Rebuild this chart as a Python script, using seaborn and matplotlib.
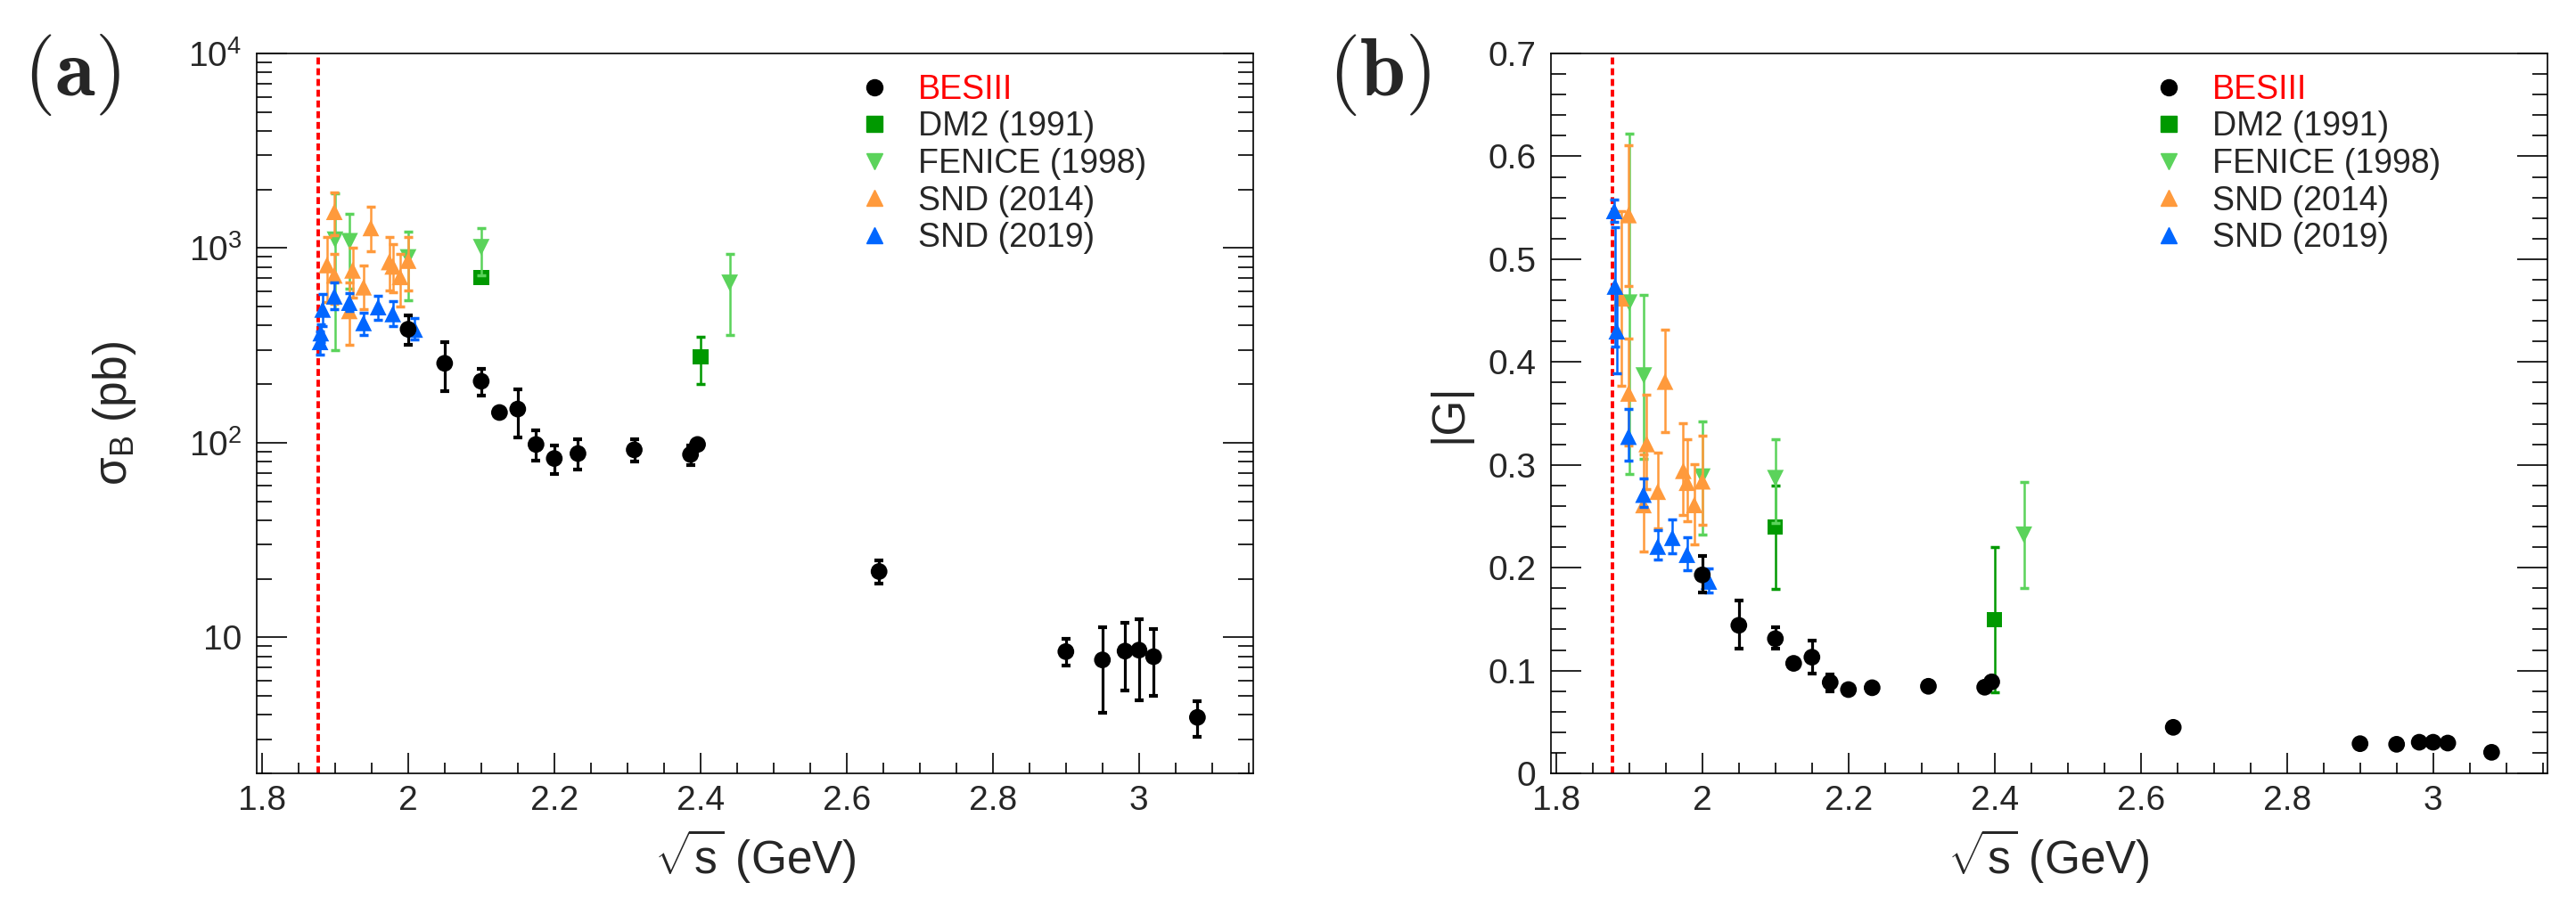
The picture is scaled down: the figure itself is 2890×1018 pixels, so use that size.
import matplotlib
matplotlib.use("Agg")
import matplotlib.pyplot as plt
from matplotlib.lines import Line2D
from matplotlib.ticker import FixedLocator, FixedFormatter, MultipleLocator, LogLocator, NullFormatter
import numpy as np
import seaborn as sns

sns.set_theme(style="white")
plt.rcParams["font.family"] = ["Liberation Sans", "DejaVu Sans"]
plt.rcParams["mathtext.fontset"] = "custom"
plt.rcParams["mathtext.rm"] = "Liberation Sans"
plt.rcParams["mathtext.it"] = "Liberation Sans:italic"
plt.rcParams["mathtext.bf"] = "Liberation Sans:bold"

# ---- data ----
threshold = 1.8765  # 2 m_p

# BESIII
bes_x = [2.0, 2.05, 2.1, 2.125, 2.15, 2.175, 2.2, 2.2324, 2.3094, 2.3864, 2.396,
         2.6444, 2.9, 2.95, 2.981, 3.0, 3.02, 3.08]
bes_sig = [383, 256, 207, 143, 149, 98, 83, 88, 92, 87, 98, 21.8, 8.45, 7.66, 8.5, 8.6, 7.96, 3.88]
bes_sig_lo = [318, 185, 175, 135, 107, 81, 69, 73, 80, 77, 95, 18.9, 7.2, 4.09, 5.36, 4.77, 5.0, 3.08]
bes_sig_hi = [452, 330, 239, 151, 189, 116, 97, 104, 104, 97, 101, 24.8, 9.85, 11.3, 11.9, 12.4, 11.0, 4.71]
bes_g = [0.193, 0.144, 0.131, 0.107, 0.113, 0.0885, 0.0815, 0.0833, 0.0847, 0.0838, 0.089,
         0.0448, 0.0289, 0.0283, 0.0303, 0.0303, 0.0295, 0.0205]
bes_g_lo = [0.1757, 0.121, 0.121, 0.104, 0.097, 0.080, 0.079, 0.081, 0.082, 0.081, 0.087,
            0.043, 0.027, 0.026, 0.028, 0.028, 0.027, 0.019]
bes_g_hi = [0.211, 0.168, 0.142, 0.110, 0.129, 0.096, 0.084, 0.086, 0.087, 0.086, 0.091,
            0.047, 0.031, 0.031, 0.033, 0.033, 0.032, 0.022]

# DM2 (1991)
dm2_x = [2.1, 2.4]
dm2_sig = [708, 277]
dm2_sig_lo = [670, 200]
dm2_sig_hi = [746, 351]
dm2_g = [0.2394, 0.1497]
dm2_g_lo = [0.1795, 0.079]
dm2_g_hi = [0.28, 0.22]

# FENICE (1998)
fen_x = [1.9, 1.92, 2.0, 2.1, 2.44]
fen_sig = [1104, 1084, 895, 1010, 663]
fen_sig_lo = [300, 619, 538, 725, 359]
fen_sig_hi = [1914, 1497, 1213, 1270, 936]
fen_g = [0.4577, 0.3868, 0.2885, 0.287, 0.232]
fen_g_lo = [0.2914, 0.3058, 0.232, 0.2437, 0.180]
fen_g_hi = [0.622, 0.4649, 0.342, 0.3246, 0.283]

# SND (2014)
snd14_x = [1.889, 1.899, 1.899, 1.9195, 1.924, 1.939, 1.949, 1.974, 1.979, 1.989, 2.0]
snd14_sig = [819, 1538, 725, 476, 769, 630, 1270, 849, 806, 712, 863]
snd14_sig_lo = [528, 1163, 520, 318, 557, 484, 959, 604, 592, 501, 604]
snd14_sig_hi = [1135, 1932, 933, 663, 1000, 811, 1633, 1135, 1047, 933, 1135]
snd14_g = [0.462, 0.543, 0.3695, 0.261, 0.3203, 0.274, 0.381, 0.2943, 0.2827, 0.2611, 0.2841]
snd14_g_lo = [0.3767, 0.474, 0.319, 0.2156, 0.2763, 0.2385, 0.3318, 0.2509, 0.2451, 0.2226, 0.2416]
snd14_g_hi = [0.5467, 0.611, 0.423, 0.31, 0.3686, 0.3116, 0.4316, 0.3405, 0.3246, 0.301, 0.3284]

# SND (2019)
snd19_x = [1.8795, 1.8805, 1.883, 1.899, 1.9195, 1.939, 1.959, 1.979, 2.009]
snd19_sig = [330, 366, 484, 566, 525, 413, 498, 459, 382]
snd19_sig_lo = [285, 330, 399, 487, 476, 359, 428, 396, 339]
snd19_sig_hi = [372, 405, 580, 663, 588, 468, 566, 532, 436]
snd19_g = [0.547, 0.4735, 0.43, 0.3275, 0.2711, 0.2206, 0.2292, 0.2127, 0.1867]
snd19_g_lo = [0.536, 0.415, 0.389, 0.3038, 0.2587, 0.2076, 0.2139, 0.198, 0.1757]
snd19_g_hi = [0.558, 0.531, 0.468, 0.3544, 0.287, 0.2365, 0.247, 0.2298, 0.1995]

labels = ["BESIII", "DM2 (1991)", "FENICE (1998)", "SND (2014)", "SND (2019)"]
colors = ["black", "#009900", "#5BD35B", "#FF9A3C", "#0066FF"]
markers = ["o", "s", "v", "^", "^"]

x_major = [1.8, 2.0, 2.2, 2.4, 2.6, 2.8, 3.0]
x_labels = ["1.8", "2", "2.2", "2.4", "2.6", "2.8", "3"]


def draw(ax, x, y, lo, hi, color, marker, ms, lw, z):
    y = np.asarray(y, dtype=float)
    yerr = [y - np.asarray(lo), np.asarray(hi) - y]
    ax.errorbar(x, y, yerr=yerr, fmt="none", ecolor=color, elinewidth=lw,
                capsize=3.4, capthick=lw + 0.7, zorder=z)
    sns.scatterplot(x=x, y=y, ax=ax, color=color, marker=marker, s=ms ** 2,
                    edgecolor="none", linewidth=0, zorder=z + 0.5, legend=False)


def style_axes(ax):
    for sp in ax.spines.values():
        sp.set_linewidth(1.2)
        sp.set_color("black")
    ax.set_xlim(1.793, 3.156)
    ax.xaxis.set_major_locator(FixedLocator(x_major))
    ax.xaxis.set_major_formatter(FixedFormatter(x_labels))
    ax.xaxis.set_minor_locator(MultipleLocator(0.05))
    ax.tick_params(axis="both", which="both", direction="in", width=1.2, color="black")
    ax.tick_params(axis="y", which="both", left=True, right=True, labelsize=28, pad=12)
    ax.tick_params(axis="y", which="major", length=24.5)
    ax.tick_params(axis="y", which="minor", length=12)
    ax.tick_params(axis="x", which="both", bottom=True, top=False, labelsize=28, pad=9)
    ax.tick_params(axis="x", which="major", length=16.5)
    ax.tick_params(axis="x", which="minor", length=8.5)
    ax.axvline(threshold, color="red", lw=2.8, dashes=(2.0, 1.1), zorder=1)
    ax.set_xlabel(r"$\sqrt{\mathrm{s}}$ (GeV)", fontsize=37)
    ax.xaxis.set_label_coords(0.5, -0.075)
    ax.grid(False)

    handles = [Line2D([], [], linestyle="none", marker=m, color=c, markersize=13)
               for m, c in zip(markers, colors)]
    leg = ax.legend(handles, labels, loc="upper left", bbox_to_anchor=(0.6036, 0.972),
                    frameon=False, fontsize=27, handlelength=1.0, handletextpad=0.8,
                    labelspacing=0.15, borderpad=0, borderaxespad=0)
    leg.get_texts()[0].set_color("red")


fig = plt.figure(figsize=(28.9, 10.18), dpi=100)
ax1 = fig.add_axes([0.0997, 0.1473, 0.3867, 0.7937])
ax2 = fig.add_axes([0.6021, 0.1473, 0.3867, 0.7937])

# (a) cross section
ax1.set_yscale("log")
draw(ax1, dm2_x, dm2_sig, dm2_sig_lo, dm2_sig_hi, colors[1], "s", 12.5, 1.8, 3)
draw(ax1, fen_x, fen_sig, fen_sig_lo, fen_sig_hi, colors[2], "v", 13.5, 1.8, 4)
draw(ax1, snd14_x, snd14_sig, snd14_sig_lo, snd14_sig_hi, colors[3], "^", 13.5, 1.8, 5)
draw(ax1, snd19_x, snd19_sig, snd19_sig_lo, snd19_sig_hi, colors[4], "^", 13.5, 1.8, 6)
draw(ax1, bes_x, bes_sig, bes_sig_lo, bes_sig_hi, colors[0], "o", 13.5, 2.3, 7)
ax1.set_ylim(2.0, 1e4)
ax1.yaxis.set_major_locator(FixedLocator([10, 100, 1000, 10000]))
ax1.yaxis.set_major_formatter(FixedFormatter(["10", r"$10^{2}$", r"$10^{3}$", r"$10^{4}$"]))
ax1.yaxis.set_minor_locator(LogLocator(base=10, subs=np.arange(2, 10)))
ax1.yaxis.set_minor_formatter(NullFormatter())
style_axes(ax1)
ax1.set_ylabel("σ$_{\\mathrm{B}}$ (pb)", fontsize=37)
ax1.yaxis.set_label_coords(-0.119, 0.5)

# (b) effective form factor
draw(ax2, dm2_x, dm2_g, dm2_g_lo, dm2_g_hi, colors[1], "s", 12.5, 1.8, 3)
draw(ax2, fen_x, fen_g, fen_g_lo, fen_g_hi, colors[2], "v", 13.5, 1.8, 4)
draw(ax2, snd14_x, snd14_g, snd14_g_lo, snd14_g_hi, colors[3], "^", 13.5, 1.8, 5)
draw(ax2, snd19_x, snd19_g, snd19_g_lo, snd19_g_hi, colors[4], "^", 13.5, 1.8, 6)
draw(ax2, bes_x, bes_g, bes_g_lo, bes_g_hi, colors[0], "o", 13.5, 2.3, 7)
ax2.set_ylim(0, 0.7)
ax2.yaxis.set_major_locator(FixedLocator([0, 0.1, 0.2, 0.3, 0.4, 0.5, 0.6, 0.7]))
ax2.yaxis.set_major_formatter(FixedFormatter(["0", "0.1", "0.2", "0.3", "0.4", "0.5", "0.6", "0.7"]))
ax2.yaxis.set_minor_locator(MultipleLocator(0.02))
style_axes(ax2)
ax2.set_ylabel("|G|", fontsize=37)
ax2.yaxis.set_label_coords(-0.08, 0.5)

fig.text(0.009, 0.965, r"$\mathbf{(a)}$", math_fontfamily="cm", fontsize=66, ha="left", va="top")
fig.text(0.5156, 0.965, r"$\mathbf{(b)}$", math_fontfamily="cm", fontsize=66, ha="left", va="top")

fig.savefig("out.png", dpi=100, facecolor="white")
